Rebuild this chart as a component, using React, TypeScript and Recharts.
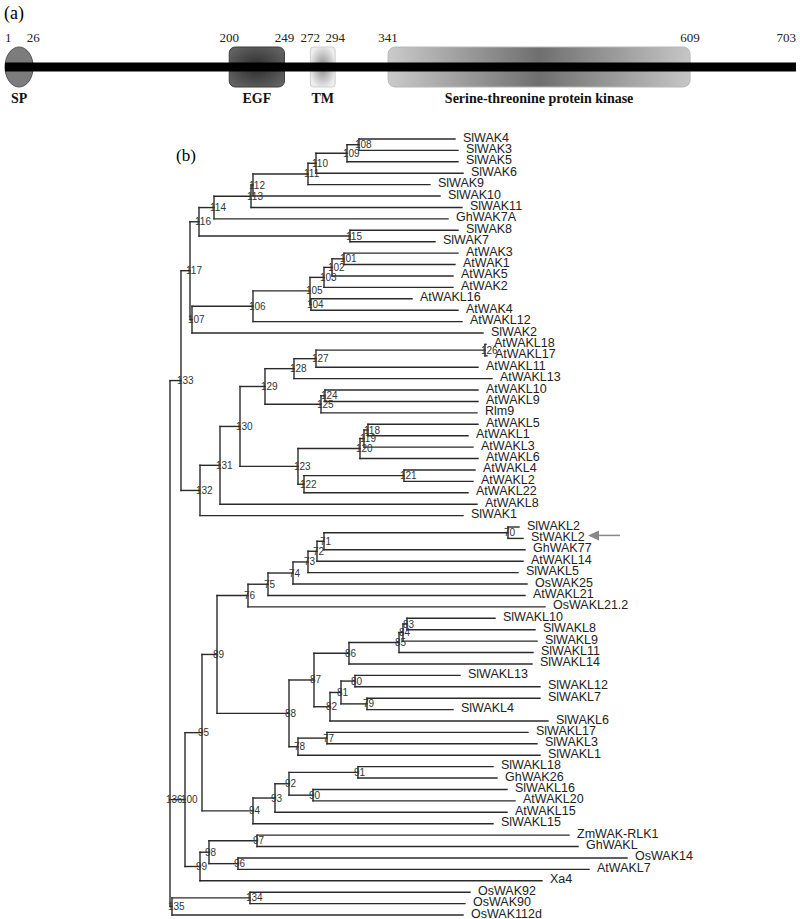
import React from "react";
import {
  ComposedChart,
  XAxis,
  YAxis,
  ReferenceLine,
  ReferenceArea,
  Scatter,
} from "recharts";

// (a) domain structure of the protein
const positionTicks = [1, 26, 200, 249, 272, 294, 341, 609, 703];
const domainNames = ["SP", "EGF", "TM", "Serine-threonine protein kinase"];
const domainStart = [1, 200, 272, 341];
const domainEnd = [26, 249, 294, 609];
const proteinLength = 703;

// (b) tree: leaves top to bottom
const leafNames = [
  "SlWAK4", "SlWAK3", "SlWAK5", "SlWAK6", "SlWAK9", "SlWAK10", "SlWAK11", "GhWAK7A", "SlWAK8", "SlWAK7",
  "AtWAK3", "AtWAK1", "AtWAK5", "AtWAK2", "AtWAKL16", "AtWAK4", "AtWAKL12", "SlWAK2", "AtWAKL18", "AtWAKL17",
  "AtWAKL11", "AtWAKL13", "AtWAKL10", "AtWAKL9", "Rlm9", "AtWAKL5", "AtWAKL1", "AtWAKL3", "AtWAKL6", "AtWAKL4",
  "AtWAKL2", "AtWAKL22", "AtWAKL8", "SlWAK1", "SlWAKL2", "StWAKL2", "GhWAK77", "AtWAKL14", "SlWAKL5", "OsWAK25",
  "AtWAKL21", "OsWAKL21.2", "SlWAKL10", "SlWAKL8", "SlWAKL9", "SlWAKL11", "SlWAKL14", "SlWAKL13", "SlWAKL12", "SlWAKL7",
  "SlWAKL4", "SlWAKL6", "SlWAKL17", "SlWAKL3", "SlWAKL1", "SlWAKL18", "GhWAK26", "SlWAKL16", "AtWAKL20", "AtWAKL15",
  "SlWAKL15", "ZmWAK-RLK1", "GhWAKL", "OsWAK14", "AtWAKL7", "Xa4", "OsWAK92", "OsWAK90", "OsWAK112d",
];
// where each leaf branch ends (tree x units)
const leafTipX = [
  455, 458, 458, 463, 430, 440, 462, 448, 458, 435,
  458, 455, 453, 453, 412, 458, 462, 483, 486, 487,
  478, 492, 478, 478, 477, 478, 468, 473, 478, 475,
  473, 468, 477, 463, 519, 523, 525, 523, 518, 527,
  525, 545, 495, 535, 537, 533, 532, 460, 540, 540,
  453, 548, 528, 537, 540, 493, 497, 507, 515, 507,
  493, 569, 578, 627, 589, 542, 470, 465, 463,
];
const leafParent = [
  108, 108, 109, 110, 111, 112, 113, 114, 115, 115,
  101, 101, 102, 103, 104, 104, 106, 107, 126, 126,
  127, 128, 124, 124, 125, 118, 118, 119, 120, 121,
  121, 122, 131, 132, 70, 70, 71, 72, 73, 74,
  75, 76, 83, 83, 84, 85, 86, 80, 80, 79,
  79, 82, 77, 77, 78, 91, 91, 90, 90, 93,
  94, 97, 97, 96, 96, 99, 134, 134, 135,
];
const highlightLeaf = "StWAKL2";

// internal nodes
const nodeIds = [
  108, 109, 110, 111, 112, 113, 114, 115, 116,
  101, 102, 103, 104, 105, 106, 107, 117,
  126, 127, 128, 124, 125, 129,
  118, 119, 120, 121, 122, 123, 130, 131, 132, 133,
  70, 71, 72, 73, 74, 75, 76,
  83, 84, 85, 86, 80, 79, 81, 82, 87, 77, 78, 88, 89,
  91, 90, 92, 93, 94, 95,
  97, 96, 98, 99, 100,
  134, 135, 136,
];
const nodeX = [
  359, 347, 316, 308, 253, 251, 214, 350, 199,
  344, 332, 324, 311, 310, 253, 192, 190,
  485, 316, 294, 325, 321, 265,
  368, 364, 360, 404, 304, 298, 240, 220, 200, 181,
  508, 324, 317, 308, 293, 268, 248,
  407, 403, 399, 349, 355, 367, 341, 330, 314, 327, 298, 289, 217,
  358, 313, 289, 275, 253, 202,
  257, 238, 209, 200, 185,
  250, 172, 170,
];
const nodeParent: (number | null)[] = [
  109, 110, 111, 112, 113, 114, 116, 116, 117,
  102, 103, 105, 105, 106, 107, 117, 133,
  127, 128, 129, 125, 129, 130,
  119, 120, 123, 122, 123, 130, 131, 132, 133, 136,
  71, 72, 73, 74, 75, 76, 89,
  84, 85, 86, 87, 81, 81, 82, 87, 88, 78, 88, 89, 95,
  92, 92, 93, 94, 95, 100,
  98, 98, 99, 100, 136,
  135, 136, null,
];

const yCache = new Map<number, number>();
function childYs(id: number): number[] {
  const ys: number[] = [];
  leafParent.forEach((p, i) => {
    if (p === id) ys.push(i);
  });
  nodeIds.forEach((n, k) => {
    if (nodeParent[k] === id) ys.push(nodeY(n));
  });
  return ys.sort((a, b) => a - b);
}
function nodeY(id: number): number {
  const hit = yCache.get(id);
  if (hit !== undefined) return hit;
  const ys = childYs(id);
  // root has three children: it sits level with the middle one
  const y = ys.length === 3 ? ys[1] : (ys[0] + ys[ys.length - 1]) / 2;
  yCache.set(id, y);
  return y;
}
const xOf = (id: number) => nodeX[nodeIds.indexOf(id)];

const branches: { x1: number; y1: number; x2: number; y2: number }[] = [];
leafNames.forEach((_, i) => {
  branches.push({ x1: xOf(leafParent[i]), y1: i, x2: leafTipX[i], y2: i });
});
nodeIds.forEach((id, k) => {
  const ys = childYs(id);
  branches.push({ x1: nodeX[k], y1: ys[0], x2: nodeX[k], y2: ys[ys.length - 1] });
  const p = nodeParent[k];
  if (p !== null) {
    const y = nodeY(id);
    branches.push({ x1: xOf(p), y1: y, x2: nodeX[k], y2: y });
  }
});

const leafPoints = leafNames.map((name, i) => ({ x: leafTipX[i], y: i, name }));
const nodePoints = nodeIds.map((id, k) => ({ x: nodeX[k], y: nodeY(id), name: String(id) }));
const trackPoints = positionTicks.map((p) => ({ pos: p, y: 0.5 }));

const SANS = "'Liberation Sans', Arial, sans-serif";
const SERIF = "'Liberation Serif', 'Times New Roman', serif";

function LeafLabel(props: any) {
  const { cx, cy, payload } = props;
  const tx = cx + 8;
  const arrow = payload.name === highlightLeaf;
  return (
    <g>
      <text x={tx} y={cy + 2.5} fontSize={12.5} fontFamily={SANS} fill="#222">
        {payload.name}
      </text>
      {arrow && (
        <g>
          <polygon
            points={`${tx + 57},${cy - 3} ${tx + 68},${cy - 8} ${tx + 68},${cy + 2}`}
            fill="#888"
          />
          <line x1={tx + 66} y1={cy - 3} x2={tx + 89} y2={cy - 3} stroke="#888" strokeWidth={1.5} />
        </g>
      )}
    </g>
  );
}

function NodeLabel(props: any) {
  const { cx, cy, payload } = props;
  return (
    <text x={cx - 4} y={cy + 3.5} fontSize={10} fontFamily={SANS} fill="#333">
      {payload.name}
    </text>
  );
}

const domainLook = [
  { fill: "#7c7c7c", stroke: "#555", r: 0, ellipse: true },
  { fill: "url(#egfFill)", stroke: "#3d3d3d", r: 6, ellipse: false },
  { fill: "url(#tmFill)", stroke: "#cfcfcf", r: 3, ellipse: false },
  { fill: "url(#kinaseFill)", stroke: "#b8b8b8", r: 7, ellipse: false },
];

function DomainShape(idx: number) {
  return (props: any) => {
    const { x, y, width, height } = props;
    const look = domainLook[idx];
    return (
      <g>
        {look.ellipse ? (
          <ellipse
            cx={x + width / 2}
            cy={y + height / 2}
            rx={width / 2}
            ry={height / 2}
            fill={look.fill}
            stroke={look.stroke}
            strokeWidth={1}
          />
        ) : (
          <rect x={x} y={y} width={width} height={height} rx={look.r} fill={look.fill} stroke={look.stroke} />
        )}
        <text
          x={x + width / 2}
          y={y + height + 16}
          textAnchor="middle"
          fontSize={14}
          fontWeight="bold"
          fontFamily={SERIF}
          fill="#111"
        >
          {domainNames[idx]}
        </text>
      </g>
    );
  };
}

function PositionTick(props: any) {
  const { x, payload, index } = props;
  const last = positionTicks.length - 1;
  const anchor = index === 0 ? "start" : index === last ? "end" : "middle";
  return (
    <text x={x} y={42} textAnchor={anchor} fontSize={13} fontFamily={SERIF} fill="#222">
      {payload.value}
    </text>
  );
}

export default function App() {
  return (
    <div
      style={{
        position: "absolute",
        left: 0,
        top: 0,
        width: 800,
        height: 919,
        background: "#fff",
        overflow: "hidden",
      }}
    >
      <div style={{ position: "absolute", left: 4, top: 4, fontFamily: SERIF, fontSize: 18, lineHeight: 1 }}>
        (a)
      </div>
      <div style={{ position: "absolute", left: 176, top: 147, fontFamily: SERIF, fontSize: 17, lineHeight: 1 }}>
        (b)
      </div>

      <div style={{ position: "absolute", left: 0, top: 0 }}>
        <ComposedChart width={800} height={110} margin={{ top: 0, right: 4, bottom: 23, left: 5 }}>
          <defs>
            <radialGradient id="egfFill" cx="50%" cy="50%" r="60%">
              <stop offset="0%" stopColor="#2c2c2c" />
              <stop offset="100%" stopColor="#626262" />
            </radialGradient>
            <radialGradient id="tmFill" cx="50%" cy="50%" r="55%">
              <stop offset="0%" stopColor="#8c8c8c" />
              <stop offset="100%" stopColor="#eeeeee" />
            </radialGradient>
            <linearGradient id="kinaseFill" x1="0" y1="0" x2="1" y2="0">
              <stop offset="0%" stopColor="#cacaca" />
              <stop offset="50%" stopColor="#6f6f6f" />
              <stop offset="100%" stopColor="#c6c6c6" />
            </linearGradient>
          </defs>
          <XAxis
            dataKey="pos"
            type="number"
            orientation="top"
            domain={[1, proteinLength]}
            ticks={positionTicks}
            interval={0}
            height={47}
            axisLine={false}
            tickLine={false}
            tick={PositionTick}
          />
          <YAxis hide type="number" domain={[0, 1]} />
          <Scatter data={trackPoints} dataKey="y" shape={() => <g />} isAnimationActive={false} />
          <ReferenceLine
            segment={[
              { x: 1, y: 0.5 },
              { x: proteinLength, y: 0.5 },
            ]}
            stroke="#000"
            strokeWidth={9}
            ifOverflow="visible"
          />
          {domainNames.map((name, i) => (
            <ReferenceArea
              key={name}
              x1={domainStart[i]}
              x2={domainEnd[i]}
              y1={0}
              y2={1}
              shape={DomainShape(i)}
              ifOverflow="visible"
            />
          ))}
        </ComposedChart>
      </div>

      <div style={{ position: "absolute", left: 0, top: 115 }}>
        <ComposedChart width={800} height={804} margin={{ top: 24, right: 0, bottom: 4, left: 0 }}>
          <XAxis dataKey="x" type="number" hide domain={[0, 800]} />
          <YAxis type="number" hide domain={[0, leafNames.length - 1]} reversed />
          {branches.map((b, i) => (
            <ReferenceLine
              key={i}
              segment={[
                { x: b.x1, y: b.y1 },
                { x: b.x2, y: b.y2 },
              ]}
              stroke="#2a2a2a"
              strokeWidth={1.4}
              strokeLinecap="square"
              ifOverflow="visible"
            />
          ))}
          <Scatter data={nodePoints} dataKey="y" shape={NodeLabel} isAnimationActive={false} />
          <Scatter data={leafPoints} dataKey="y" shape={LeafLabel} isAnimationActive={false} />
        </ComposedChart>
      </div>
    </div>
  );
}
